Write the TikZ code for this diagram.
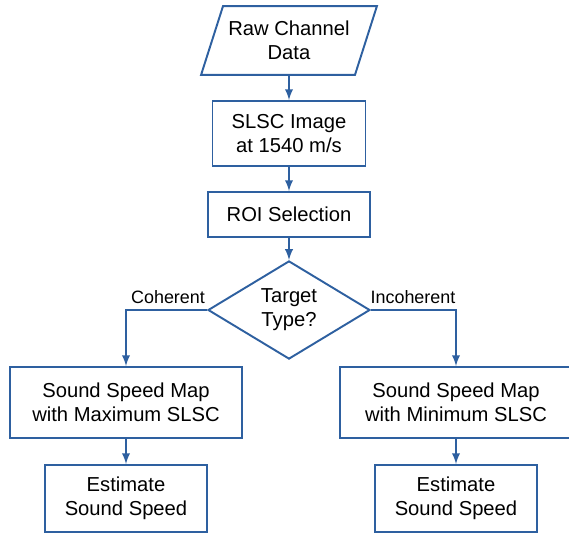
\documentclass[tikz,border=0pt]{standalone}
\usepackage{fontspec}
\setmainfont{Liberation Sans}
\usetikzlibrary{arrows,shapes.geometric}
\definecolor{flowblue}{RGB}{46,96,160}

\begin{document}
\begin{tikzpicture}[x=0.02cm,y=-0.02cm,
  box/.style={draw=flowblue,line width=1.1pt,align=center,inner sep=0pt,
    font=\fontsize{11.5}{13.6}\selectfont},
  flow/.style={->,>=latex,color=flowblue,line width=1.1pt}]
\useasboundingbox (0,0) rectangle (569,535);

% input data (parallelogram)
\node[box,rectangle,draw=none,minimum width=3.04cm,minimum height=1.34cm] (raw) at (289,40.5) {Raw Channel\\Data};
\draw[flowblue,line width=1.1pt,line join=miter] ([xshift=0.22cm]raw.north west) -- ([xshift=0.22cm]raw.north east)
  -- ([xshift=-0.22cm]raw.south east) -- ([xshift=-0.22cm]raw.south west) -- cycle;

\node[box,rectangle,minimum width=3.06cm,minimum height=1.3cm] (slsc) at (289,133.5) {SLSC Image\\at 1540 m/s};
\node[box,rectangle,minimum width=3.24cm,minimum height=0.9cm] (roi) at (289,214.5) {ROI Selection};
\node[box,diamond,minimum width=3.24cm,minimum height=1.92cm] (type) at (289,310) {Target\\Type?};

\node[box,rectangle,minimum width=4.64cm,minimum height=1.42cm] (mapmax) at (126,402.5) {Sound Speed Map\\with Maximum SLSC};
\node[box,rectangle,minimum width=4.64cm,minimum height=1.42cm] (mapmin) at (456,402.5) {Sound Speed Map\\with Minimum SLSC};
\node[box,rectangle,minimum width=3.24cm,minimum height=1.34cm] (estmax) at (126,498.5) {Estimate\\Sound Speed};
\node[box,rectangle,minimum width=3.24cm,minimum height=1.34cm] (estmin) at (456,498.5) {Estimate\\Sound Speed};

\path[flow] (raw) edge (slsc);
\path[flow] (slsc) edge (roi);
\path[flow] (roi) edge (type);
\draw[flow] (type.west) -| (mapmax.north);
\draw[flow] (type.east) -| (mapmin.north);
\path[flow] (mapmax) edge (estmax);
\path[flow] (mapmin) edge (estmin);

\node[font=\fontsize{10.2}{12}\selectfont] at (168,297) {Coherent};
\node[font=\fontsize{10.2}{12}\selectfont] at (413,297) {Incoherent};

\end{tikzpicture}
\end{document}
